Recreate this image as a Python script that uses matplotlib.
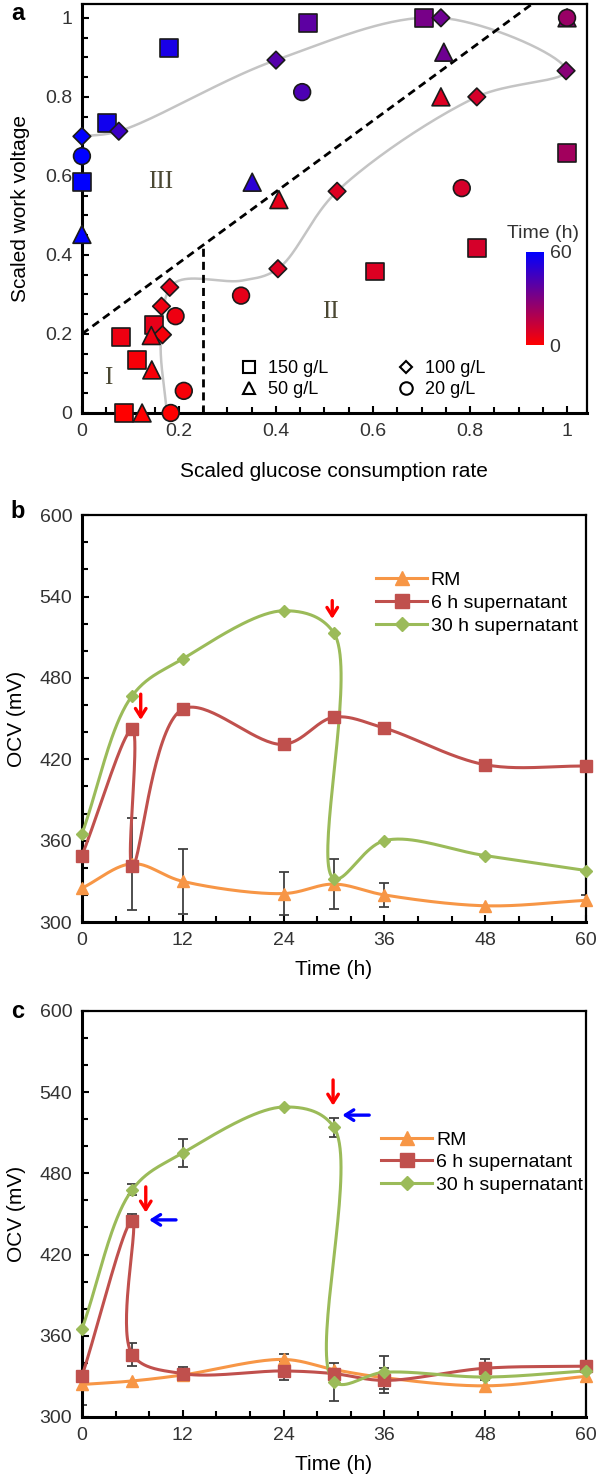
import numpy as np
import matplotlib
matplotlib.use("Agg")
import matplotlib.pyplot as plt
from matplotlib.colors import LinearSegmentedColormap, Normalize
from matplotlib.lines import Line2D
from matplotlib.ticker import MultipleLocator, FuncFormatter
import matplotlib.cm as cm

plt.rcParams['font.family'] = ['Liberation Sans', 'DejaVu Sans']

### panel a data: scaled glucose consumption rate, scaled work voltage, time (h)
sq_x = [0.087, 0.114, 0.081, 0.148, 0.604, 0.815, 1.0, 0.705, 0.466, 0.18, 0.052, 0.0]
sq_y = [0.0, 0.135, 0.193, 0.223, 0.358, 0.418, 0.657, 1.0, 0.987, 0.924, 0.733, 0.584]
sq_t = [0, 2, 4, 6, 8, 10, 22, 32, 38, 54, 56, 60]

di_x = [0.166, 0.164, 0.181, 0.404, 0.526, 0.814, 0.998, 0.74, 0.40, 0.076, 0.0]
di_y = [0.198, 0.27, 0.318, 0.365, 0.561, 0.80, 0.866, 1.0, 0.893, 0.713, 0.70]
di_t = [2, 4, 6, 8, 8, 10, 28, 34, 40, 46, 60]

tr_x = [0.124, 0.144, 0.143, 0.406, 0.74, 1.0, 0.746, 0.351, 0.0]
tr_y = [0.0, 0.109, 0.196, 0.54, 0.80, 1.0, 0.913, 0.584, 0.452]
tr_t = [0, 2, 4, 6, 8, 28, 34, 50, 60]

ci_x = [0.183, 0.21, 0.193, 0.328, 0.783, 1.0, 0.454, 0.0]
ci_y = [0.0, 0.056, 0.245, 0.297, 0.569, 1.0, 0.812, 0.65]
ci_t = [0, 2, 4, 6, 10, 24, 42, 60]

# grey guide curve
guide_x = [0.175, 0.163, 0.19, 0.33, 0.404, 0.526, 0.814, 0.998, 0.74, 0.40, 0.076, 0.0]
guide_y = [0.0, 0.19, 0.328, 0.335, 0.365, 0.561, 0.80, 0.866, 1.0, 0.893, 0.713, 0.70]

# dashed region borders
diag_x = [0.0, 0.928]
diag_y = [0.2, 1.035]
vert_x = [0.25, 0.25]
vert_y = [0.0, 0.425]

### panel b data (OCV, mV)
b_t_rm = [0, 6, 12, 24, 30, 36, 48, 60]
b_rm = [325, 343, 330, 321, 328, 320, 312, 316]
b_rm_err = [0, 34, 24, 16, 18.5, 9, 0, 4]
b_t_6h = [0, 6, 6, 12, 24, 30, 36, 48, 60]
b_6h = [349, 442, 341, 457, 431, 451, 443, 416, 415]
b_t_30h = [0, 6, 12, 24, 30, 30, 36, 48, 60]
b_30h = [365, 467, 494, 529.5, 513, 332, 360, 349, 338]
b_arrow_t = [7.0, 29.8]
b_arrow_top = [468, 537]
b_arrow_tip = [449, 523.5]

### panel c data (OCV, mV)
c_t_rm = [0, 6, 12, 24, 30, 36, 48, 60]
c_rm = [324, 326.6, 331, 342.5, 335, 329, 323, 330]
c_rm_err = [15, 0, 0, 4, 0, 0, 4, 0]
c_t_6h = [0, 6, 6, 12, 24, 30, 36, 48, 60]
c_6h = [330, 445, 346, 332, 334, 332, 327, 336, 337.5]
c_6h_err = [0, 5, 8.5, 5, 7, 0, 9, 7, 3]
c_t_30h = [0, 6, 12, 24, 30, 30, 36, 48, 60]
c_30h = [365, 468, 495, 529, 514, 326, 333, 329.5, 334]
c_30h_err = [0, 4, 10, 0, 7, 14, 12, 0, 0]
c_arrow_t = [7.6, 29.9]
c_arrow_top = [470, 549]
c_arrow_tip = [451, 530]
c_blue_y = [445.6, 523]
c_blue_from = [11.2, 34.2]
c_blue_to = [8.0, 31.0]

series_names = ["RM", "6 h supernatant", "30 h supernatant"]
series_colors = ["#F79646", "#C0504D", "#9BBB59"]
series_markers = ["^", "s", "D"]
series_ms = [9, 8.5, 6]


def smooth(x, y, sx=1.0, sy=1.0, n=40, alpha=0.5):
    # centripetal catmull-rom through the points, in screen-like units
    p = np.column_stack([np.asarray(x, float) * sx, np.asarray(y, float) * sy])
    p = np.vstack([2 * p[0] - p[1], p, 2 * p[-1] - p[-2]])
    out = []
    for i in range(1, len(p) - 2):
        P0, P1, P2, P3 = p[i - 1], p[i], p[i + 1], p[i + 2]
        t0 = 0.0
        t1 = t0 + max(np.linalg.norm(P1 - P0), 1e-6) ** alpha
        t2 = t1 + max(np.linalg.norm(P2 - P1), 1e-6) ** alpha
        t3 = t2 + max(np.linalg.norm(P3 - P2), 1e-6) ** alpha
        t = np.linspace(t1, t2, n)[:, None]
        A1 = (t1 - t) / (t1 - t0) * P0 + (t - t0) / (t1 - t0) * P1
        A2 = (t2 - t) / (t2 - t1) * P1 + (t - t1) / (t2 - t1) * P2
        A3 = (t3 - t) / (t3 - t2) * P2 + (t - t2) / (t3 - t2) * P3
        B1 = (t2 - t) / (t2 - t0) * A1 + (t - t0) / (t2 - t0) * A2
        B2 = (t3 - t) / (t3 - t1) * A2 + (t - t1) / (t3 - t1) * A3
        C = (t2 - t) / (t2 - t1) * B1 + (t - t1) / (t2 - t1) * B2
        out.append(C if i == 1 else C[1:])
    c = np.vstack(out)
    return c[:, 0] / sx, c[:, 1] / sy


def style_axes(ax):
    for s in ["left", "bottom"]:
        ax.spines[s].set_linewidth(2.2)
    for s in ["top", "right"]:
        ax.spines[s].set_linewidth(1.6)
    ax.tick_params(which="both", direction="in", top=False, right=False,
                   width=1.5, labelsize=14, labelcolor="#333333", pad=7)
    ax.tick_params(which="major", length=5)
    ax.tick_params(which="minor", length=4)


fig = plt.figure(figsize=(5.98, 14.76), dpi=100)

### panel a
ax = fig.add_axes([0.137, 0.7202, 0.8445, 0.2771])
cmap = LinearSegmentedColormap.from_list("time", ["#ff0000", "#800080", "#0000ff"])
norm = Normalize(0, 60)

gx, gy = smooth(guide_x, guide_y, 485, 395)
ax.plot(gx, gy, color="#c4c4c4", lw=1.8, zorder=1)
ax.plot(diag_x, diag_y, color="black", lw=2, ls=(0, (2.9, 1.8)), zorder=1)
ax.plot(vert_x, vert_y, color="black", lw=2, ls=(0, (2.9, 1.8)), zorder=1)

for xs, ys, ts, mk, size in [(sq_x, sq_y, sq_t, "s", 165), (di_x, di_y, di_t, "D", 80),
                             (tr_x, tr_y, tr_t, "^", 165), (ci_x, ci_y, ci_t, "o", 145)]:
    ax.scatter(xs, ys, c=ts, cmap=cmap, norm=norm, marker=mk, s=size,
               edgecolors="#1a1a1a", linewidths=1.2, zorder=3, clip_on=False)

ax.text(0.054, 0.089, "I", family="Liberation Serif", fontsize=18, color="#4b4833",
        ha="center", va="center")
ax.text(0.513, 0.256, "II", family="Liberation Serif", fontsize=18, color="#4b4833",
        ha="center", va="center")
ax.text(0.163, 0.584, "III", family="Liberation Serif", fontsize=18, color="#4b4833",
        ha="center", va="center")

ax.set_xlim(0, 1.041)
ax.set_ylim(0, 1.035)
ax.xaxis.set_major_locator(MultipleLocator(0.2))
ax.yaxis.set_major_locator(MultipleLocator(0.2))
ax.xaxis.set_minor_locator(MultipleLocator(0.05))
ax.yaxis.set_minor_locator(MultipleLocator(0.05))
fmt = FuncFormatter(lambda v, p: "%g" % round(v, 2))
ax.xaxis.set_major_formatter(fmt)
ax.yaxis.set_major_formatter(fmt)
style_axes(ax)
ax.set_xlabel("Scaled glucose consumption rate", fontsize=15, labelpad=16)
ax.set_ylabel("Scaled work voltage", fontsize=15, labelpad=11)

leg_h = [Line2D([], [], ls="none", marker=m, mfc="white", mec="black", mew=1.5, ms=ms)
         for m, ms in [("s", 9), ("^", 9), ("D", 6), ("o", 9)]]
ax.legend(leg_h, ["150 g/L", "50 g/L", "100 g/L", "20 g/L"], ncol=2, frameon=False,
          loc="lower left", bbox_to_anchor=(0.295, 0.015), fontsize=13,
          handlelength=1.0, handletextpad=0.55, columnspacing=3.8, labelspacing=0.2,
          borderpad=0)

cax = fig.add_axes([526 / 598, 1 - 345 / 1476, 18 / 598, 93 / 1476])
cb = fig.colorbar(cm.ScalarMappable(norm=norm, cmap=cmap), cax=cax, ticks=[0, 60])
cb.outline.set_visible(False)
cax.tick_params(length=0, labelsize=14, labelcolor="#333333", pad=4)
fig.text(543 / 598, 1 - 233 / 1476, "Time (h)", fontsize=14, color="#333333",
         ha="center", va="center")


### panels b and c
def ocv_panel(rect, data, errs, arrows, blue=None, leg_anchor=(0.56, 0.9), leg_space=0.2):
    ax = fig.add_axes(rect)
    for (tt, vv), err in zip(data, errs):
        e = np.asarray(err, float)
        keep = e > 0
        if keep.any():
            ax.errorbar(np.asarray(tt)[keep], np.asarray(vv)[keep], yerr=e[keep], fmt="none",
                        ecolor="#404040", elinewidth=1.3, capsize=3.5, capthick=1.3, zorder=2)
    for (tt, vv), col, mk, ms in zip(data, series_colors, series_markers, series_ms):
        sx, sy = smooth(tt, vv, 504 / 60, 407 / 300)
        ax.plot(sx, sy, color=col, lw=2.2, zorder=3, clip_on=False)
        ax.plot(tt, vv, ls="none", marker=mk, ms=ms, color=col, mec=col, zorder=4, clip_on=False)
    head = "->,head_length=0.6,head_width=0.38"
    for at, top, tip in zip(*arrows):
        ax.annotate("", xy=(at, tip), xytext=(at, top),
                    arrowprops=dict(arrowstyle=head, color="red", lw=2.4,
                                    shrinkA=0, shrinkB=0), zorder=5)
    if blue is not None:
        for by, bf, bt in zip(*blue):
            ax.annotate("", xy=(bt, by), xytext=(bf, by),
                        arrowprops=dict(arrowstyle=head, color="blue", lw=2.4,
                                        shrinkA=0, shrinkB=0), zorder=5)
    ax.set_xlim(0, 60)
    ax.set_ylim(300, 600)
    ax.xaxis.set_major_locator(MultipleLocator(12))
    ax.xaxis.set_minor_locator(MultipleLocator(4))
    ax.yaxis.set_major_locator(MultipleLocator(60))
    ax.yaxis.set_minor_locator(MultipleLocator(20))
    style_axes(ax)
    ax.set_xlabel("Time (h)", fontsize=15, labelpad=8)
    ax.set_ylabel("OCV (mV)", fontsize=15, labelpad=10)
    h = [Line2D([], [], color=c, lw=2.2, marker=m, ms=ms + 1)
         for c, m, ms in zip(series_colors, series_markers, series_ms)]
    ax.legend(h, series_names, loc="upper left", bbox_to_anchor=leg_anchor, frameon=False,
              fontsize=14, handlelength=2.6, handletextpad=0.2, labelspacing=leg_space,
              borderpad=0)
    return ax


ocv_panel([0.137, 0.3753, 0.8428, 0.2757],
          [(b_t_rm, b_rm), (b_t_6h, b_6h), (b_t_30h, b_30h)],
          [b_rm_err, [0] * len(b_6h), [0] * len(b_30h)],
          (b_arrow_t, b_arrow_top, b_arrow_tip), leg_anchor=(0.565, 0.885), leg_space=0.27)

ocv_panel([0.137, 0.0400, 0.8428, 0.2751],
          [(c_t_rm, c_rm), (c_t_6h, c_6h), (c_t_30h, c_30h)],
          [c_rm_err, c_6h_err, c_30h_err],
          (c_arrow_t, c_arrow_top, c_arrow_tip), blue=(c_blue_y, c_blue_from, c_blue_to),
          leg_anchor=(0.575, 0.728), leg_space=0.25)

for lab, ypx in [("a", 13), ("b", 512), ("c", 1011)]:
    fig.text(0.018, 1 - ypx / 1476, lab, fontsize=17, fontweight="bold", va="center")

fig.savefig("out.png", dpi=100)
